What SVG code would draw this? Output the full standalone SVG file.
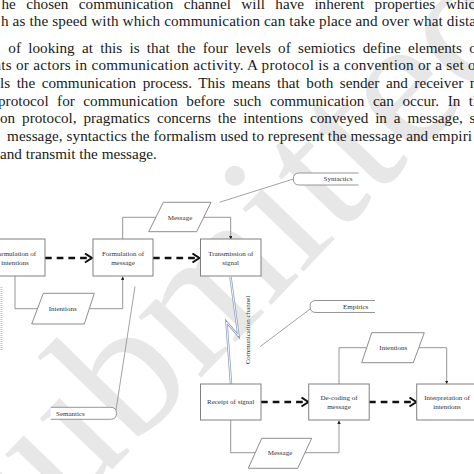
<svg xmlns="http://www.w3.org/2000/svg" width="474" height="474" viewBox="0 0 474 474">
<style>
.para{font-family:"Liberation Serif","Times New Roman",serif;font-size:15.2px;fill:#1a1a1a}
.wm{font-family:"Liberation Serif","Times New Roman",serif;font-size:190px;fill:#e7e7e7}
.box{fill:#fff;stroke:#808080;stroke-width:1}
.para-shape{fill:#fff;stroke:#808080;stroke-width:0.9}
.conn{fill:none;stroke:#8a8a8a;stroke-width:0.9}
.lead{fill:none;stroke:#8a8a8a;stroke-width:0.8}
.tab{fill:#fff;stroke:#8a8a8a;stroke-width:0.9}
.dash{fill:none;stroke:#111;stroke-width:2.3;stroke-dasharray:6.7 5}
.t{font-family:"Liberation Serif","Times New Roman",serif;font-size:7px;fill:#333;text-anchor:middle}
.tl{font-family:"Liberation Serif","Times New Roman",serif;font-size:7px;fill:#333}
</style>
<defs>
<marker id="tip" viewBox="0 0 6 6" refX="6" refY="3" markerWidth="3.5" markerHeight="3.5" orient="auto" markerUnits="userSpaceOnUse"><path d="M0,0 L6,3 L0,6 z" fill="#222"/></marker>
<marker id="chev" viewBox="0 0 10 12" refX="9" refY="6" markerWidth="9" markerHeight="11" orient="auto" markerUnits="userSpaceOnUse"><path d="M1.2,1 L8.8,6 L1.2,11" fill="none" stroke="#111" stroke-width="2.3"/></marker>
</defs>
<rect width="474" height="474" fill="#fff"/>
<text class="wm" transform="translate(14.8,570.3) rotate(-46)">submitted</text>

<g id="paragraph">
<text class="para" x="1.5" y="8.5" word-spacing="6.6">he chosen communication channel will have inherent properties which</text>
<text class="para" x="1" y="26.2" textLength="475" lengthAdjust="spacing">h as the speed with which communication can take place and over what dista</text>
<text class="para" x="8.3" y="52.5" word-spacing="3.5">of looking at this is that the four levels of semiotics define elements of</text>
<text class="para" x="-6.5" y="70.2" textLength="482" lengthAdjust="spacing">nts or actors in communication activity. A protocol is a convention or a set o</text>
<text class="para" x="0" y="87.8" word-spacing="2.7">ls the communication process. This means that both sender and receiver must</text>
<text class="para" x="-2" y="105.5" word-spacing="4.7">protocol for communication before such communication can occur. In the</text>
<text class="para" x="0" y="123.3" word-spacing="3.1">on protocol, pragmatics concerns the intentions conveyed in a message, semantics</text>
<text class="para" x="7" y="140.8" textLength="465" lengthAdjust="spacing">message, syntactics the formalism used to represent the message and empiri</text>
<text class="para" x="0" y="158.5">and transmit the message.</text>
</g>

<g id="connectors">
<path class="dash" d="M45,258 H92" marker-end="url(#chev)"/>
<path class="dash" d="M153,258 H199.5" marker-end="url(#chev)"/>
<path class="dash" d="M261,402 H308.5" marker-end="url(#chev)"/>
<path class="dash" d="M369,402 H416.5" marker-end="url(#chev)"/>
<path class="conn" d="M15,276 V308.7 H37.5"/>
<path class="conn" d="M89.3,308.7 H122.7 V276.5" marker-end="url(#tip)"/>
<path class="conn" d="M122.7,239 V217.3 H155.9"/>
<path class="conn" d="M203.7,217.3 H230.7 V239.5" marker-end="url(#tip)"/>
<path class="conn" d="M230.7,420 V452.7 H255.3"/>
<path class="conn" d="M305,452.7 H339 V420.5" marker-end="url(#tip)"/>
<path class="conn" d="M339,384 V347.7 H366.7"/>
<path class="conn" d="M418.8,347.7 H446.7 V384" marker-end="url(#tip)"/>
<path class="lead" d="M293.3,179 L219.5,202.3"/>
<path class="lead" d="M311.5,308 L260,346.7"/>
<path class="lead" d="M116,410 L135,286.5"/>
<path d="M230.5,277 L238.5,336 L226.5,322 L231,384" fill="none" stroke="#8a9bbb" stroke-width="2.4" stroke-linejoin="miter"/>
<path d="M230.5,277 L238.5,336 L226.5,322 L231,384" fill="none" stroke="#fff" stroke-width="0.9"/>
<line x1="1.5" y1="287" x2="1.5" y2="350" stroke="#c4c4c4" stroke-width="2" stroke-dasharray="1 1"/>
</g>

<g id="channel-label"><text class="t" transform="translate(250.3,330) rotate(-90)">Communication channel</text></g>

<g id="n-formint"><rect class="box" x="-15" y="239" width="60" height="37"/><text class="t" x="15" y="256.3">Formulation of</text><text class="t" x="15" y="264.6">intentions</text></g>
<g id="n-formmsg"><rect class="box" x="93" y="239" width="60" height="37"/><text class="t" x="123" y="256.3">Formulation of</text><text class="t" x="123" y="264.6">message</text></g>
<g id="n-trans"><rect class="box" x="200.5" y="239" width="60.5" height="37"/><text class="t" x="230.7" y="256.3">Transmission of</text><text class="t" x="230.7" y="264.6">signal</text></g>
<g id="n-receipt"><rect class="box" x="200.5" y="384" width="60.5" height="36"/><text class="t" x="230.7" y="404.3">Receipt of signal</text></g>
<g id="n-decode"><rect class="box" x="308.7" y="384" width="60.5" height="36"/><text class="t" x="339" y="400.3">De-coding of</text><text class="t" x="339" y="408.6">message</text></g>
<g id="n-interp"><rect class="box" x="416.7" y="384" width="60.5" height="36"/><text class="t" x="447" y="400.3">Interpretation of</text><text class="t" x="447" y="408.6">intentions</text></g>

<g id="p-intent1"><polygon class="para-shape" points="43.3,293.3 94.3,293.3 84.3,324 31.7,324"/><text class="t" x="62.7" y="311">Intentions</text></g>
<g id="p-msg1"><polygon class="para-shape" points="163.3,202.3 211,202.3 196.7,231.7 148.7,231.7"/><text class="t" x="180" y="219.6">Message</text></g>
<g id="p-msg2"><polygon class="para-shape" points="261.7,438.3 311.7,438.3 297.7,468.3 248.3,468.3"/><text class="t" x="280" y="455">Message</text></g>
<g id="p-intent2"><polygon class="para-shape" points="371.7,332.7 424.3,332.7 413.3,362.7 361.7,362.7"/><text class="t" x="393.3" y="350">Intentions</text></g>

<g id="l-syntactics"><path class="tab" d="M358.5,173 H299.3 Q293.3,173 293.3,179 Q293.3,185 299.3,185 H358.5"/><text class="t" x="338" y="181.3">Syntactics</text></g>
<g id="l-empirics"><path class="tab" d="M375,300.5 H316 Q310,300.5 310,306.5 Q310,312.5 316,312.5 H375"/><text class="t" x="355.7" y="309">Empirics</text></g>
<g id="l-semantics"><path class="tab" d="M50.7,407.3 H110.5 Q116.5,407.3 116.5,413.3 Q116.5,419.3 110.5,419.3 H50.7"/><text class="tl" x="56" y="416">Semantics</text></g>
</svg>
